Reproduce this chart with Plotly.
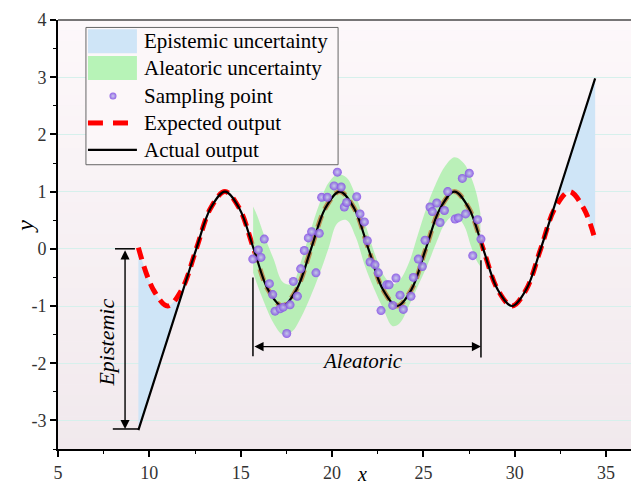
import plotly.graph_objects as go

# ---------------- data ----------------
actual_x = [9.40, 10.20, 11.00, 11.80, 12.57, 13.35, 14.14, 14.92, 15.71, 16.49, 17.28, 18.06, 18.85,
            19.63, 20.42, 21.21, 21.99, 22.78, 23.56, 24.35, 25.13, 25.92, 26.70, 27.49, 28.27,
            29.06, 29.85, 30.63, 31.42, 32.40, 33.40, 34.40]
actual_y = [-3.17, -2.37, -1.57, -0.77, 0.00, 0.71, 1.00, 0.71, 0.00, -0.71, -1.00, -0.71, 0.00,
            0.71, 1.00, 0.71, 0.00, -0.71, -1.00, -0.71, 0.00, 0.71, 1.00, 0.71, 0.00,
            -0.71, -1.00, -0.71, 0.00, 0.98, 1.98, 2.98]

expected_x = [9.40, 10.21, 11.00, 11.78, 12.57, 13.35, 14.14, 14.92, 15.71, 16.49, 17.28, 18.06, 18.85,
              19.63, 20.42, 21.21, 21.99, 22.78, 23.56, 24.35, 25.13, 25.92, 26.70, 27.49, 28.27,
              29.06, 29.85, 30.63, 31.42, 32.20, 32.99, 33.77, 34.40]
expected_y = [0.02, -0.71, -1.00, -0.71, 0.00, 0.71, 1.00, 0.71, 0.00, -0.71, -1.00, -0.71, 0.00,
              0.71, 1.00, 0.71, 0.00, -0.71, -1.00, -0.71, 0.00, 0.71, 1.00, 0.71, 0.00,
              -0.71, -1.00, -0.71, 0.00, 0.71, 1.00, 0.71, 0.16]

epi_left_x = [9.40, 10.21, 11.00, 11.78, 12.57]
epi_left_top = [0.02, -0.71, -1.00, -0.71, 0.00]
epi_left_bot = [-3.17, -2.36, -1.57, -0.79, 0.00]

epi_right_x = [31.42, 32.20, 32.99, 33.77, 34.40]
epi_right_bot = [0.00, 0.71, 1.00, 0.71, 0.16]
epi_right_top = [0.00, 0.79, 1.57, 2.36, 2.98]

band_x = [15.68, 15.90, 16.30, 16.80, 17.30, 17.80, 18.30, 18.80, 19.30, 19.80, 20.30, 20.80, 21.30,
          21.80, 22.30, 22.80, 23.30, 23.70, 24.20, 24.70, 25.20, 25.70, 26.20, 26.70, 27.20,
          27.60, 27.90, 28.12]
band_upper = [0.74, 0.58, 0.22, -0.18, -0.58, -0.62, -0.22, 0.30, 0.78, 1.15, 1.30, 1.24, 0.92,
              0.45, -0.05, -0.45, -0.62, -0.55, -0.25, 0.25, 0.75, 1.15, 1.45, 1.60, 1.50,
              1.26, 0.97, 0.62]
band_lower = [-0.42, -0.62, -0.95, -1.30, -1.50, -1.45, -1.20, -0.85, -0.45, 0.00, 0.45, 0.50, 0.20,
              -0.30, -0.70, -1.05, -1.35, -1.30, -1.00, -0.65, -0.30, 0.10, 0.45, 0.58, 0.42,
              0.05, -0.20, -0.31]

sample_x = [15.66, 15.96, 16.11, 16.29, 16.57, 16.75, 16.88, 17.15, 17.33, 17.52, 17.70, 17.88, 18.10,
            18.28, 18.48, 18.70, 18.88, 19.12, 19.30, 19.43, 19.74, 20.11, 20.29, 20.50, 20.67,
            20.80, 21.35, 21.53, 21.77, 21.93, 22.08, 22.35, 22.53, 22.68, 22.99, 23.12, 23.32,
            23.50, 23.72, 23.90, 24.32, 24.45, 24.72, 24.94, 25.09, 25.36, 25.49, 25.73, 25.91,
            26.15, 26.33, 26.73, 26.91, 27.13, 27.31, 27.51, 27.70, 27.97, 28.15]
sample_y = [-0.18, -0.02, -0.15, 0.17, -0.61, -0.80, -1.09, -1.05, -1.02, -1.48, -0.98, -0.57, -0.83,
            -0.35, -0.03, 0.19, 0.30, -0.42, 0.27, 0.90, 0.90, 1.10, 1.34, 1.08, 0.73,
            0.81, 0.91, 0.61, 0.47, 0.14, -0.23, -0.28, -0.42, -1.08, -0.63, -0.63, -0.99,
            -0.51, -0.81, -1.06, -0.83, -0.50, -0.18, -0.31, 0.15, 0.73, 0.65, 0.80, 0.46,
            0.67, 1.00, 0.52, 0.54, 1.23, 0.61, 1.32, -0.12, 0.51, 0.17]

x_ticks = [5, 10, 15, 20, 25, 30, 35]
y_ticks = [-3, -2, -1, 0, 1, 2, 3, 4]
y_tick_text = ["-3", "-2", "-1", "0", "1", "2", "3", "4"]

legend_labels = ["Epistemic uncertainty", "Aleatoric uncertainty", "Sampling point",
                 "Expected output", "Actual output"]

# ---------------- styles ----------------
SERIF = "Liberation Serif"
BLUE = "rgb(207,229,247)"
GREEN = "rgba(144,238,144,0.6)"
RED = "#ff0000"
DOT = "#8552e4"
DOT_HI = "#c4c6ec"

fig = go.Figure()

# epistemic fills
fig.add_trace(go.Scatter(x=epi_left_x, y=epi_left_top, mode="lines", line=dict(width=0, shape="spline"),
                         showlegend=False, hoverinfo="skip"))
fig.add_trace(go.Scatter(x=epi_left_x, y=epi_left_bot, mode="lines", line=dict(width=0, shape="spline"),
                         fill="tonexty", fillcolor=BLUE, showlegend=False, hoverinfo="skip"))
fig.add_trace(go.Scatter(x=epi_right_x, y=epi_right_bot, mode="lines", line=dict(width=0, shape="spline"),
                         showlegend=False, hoverinfo="skip"))
fig.add_trace(go.Scatter(x=epi_right_x, y=epi_right_top, mode="lines", line=dict(width=0, shape="spline"),
                         fill="tonexty", fillcolor=BLUE, showlegend=False, hoverinfo="skip"))

# expected output (red dashed)
fig.add_trace(go.Scatter(x=expected_x, y=expected_y, mode="lines",
                         line=dict(color=RED, width=5, dash="12px,7px", shape="spline"),
                         showlegend=False))

# aleatoric band
fig.add_trace(go.Scatter(x=band_x, y=band_upper, mode="lines", line=dict(width=0, shape="spline"),
                         showlegend=False, hoverinfo="skip"))
fig.add_trace(go.Scatter(x=band_x, y=band_lower, mode="lines", line=dict(width=0, shape="spline"),
                         fill="tonexty", fillcolor=GREEN, showlegend=False, hoverinfo="skip"))

# actual output
fig.add_trace(go.Scatter(x=actual_x, y=actual_y, mode="lines",
                         line=dict(color="black", width=2.2, shape="spline"), showlegend=False))

# sampling points
marker_style = dict(color=DOT, size=9, opacity=0.9, line=dict(width=0),
                    gradient=dict(type="radial", color=DOT_HI))
fig.add_trace(go.Scatter(x=sample_x, y=sample_y, mode="markers", marker=marker_style, showlegend=False))

# ---------------- background gradient ----------------
shapes = []
N = 40
top_c = (253, 248, 250)
bot_c = (241, 233, 237)
for i in range(N):
    t = (i + 0.5) / N
    c = tuple(int(round(top_c[k] + (bot_c[k] - top_c[k]) * t)) for k in range(3))
    shapes.append(dict(type="rect", xref="x domain", yref="y domain", x0=0, x1=1,
                       y0=1 - (i + 1) / N, y1=1 - i / N + 0.001, line=dict(width=0),
                       fillcolor="rgb(%d,%d,%d)" % c, layer="below"))

# top frame line
shapes.append(dict(type="line", xref="x domain", yref="y domain", x0=0, x1=1, y0=1, y1=1,
                   line=dict(color="#4a4a4a", width=1.5)))

# ---------------- custom legend ----------------
shapes.append(dict(type="rect", xref="x", yref="y", x0=6.53, x1=20.33, y0=1.47, y1=3.87,
                   line=dict(color="#666666", width=1), fillcolor="rgb(252,247,249)", layer="between"))
shapes.append(dict(type="rect", xref="x", yref="y", x0=6.64, x1=9.32, y0=3.42, y1=3.84,
                   line=dict(width=0), fillcolor=BLUE))
shapes.append(dict(type="rect", xref="x", yref="y", x0=6.64, x1=9.32, y0=2.95, y1=3.37,
                   line=dict(width=0), fillcolor="rgb(183,243,183)"))
shapes.append(dict(type="line", xref="x", yref="y", x0=6.64, x1=7.46, y0=2.20, y1=2.20,
                   line=dict(color=RED, width=5)))
shapes.append(dict(type="line", xref="x", yref="y", x0=8.01, x1=8.83, y0=2.20, y1=2.20,
                   line=dict(color=RED, width=5)))
shapes.append(dict(type="line", xref="x", yref="y", x0=6.64, x1=9.32, y0=1.73, y1=1.73,
                   line=dict(color="black", width=2.2)))

legend_dot_style = dict(marker_style, size=7)
fig.add_trace(go.Scatter(x=[8.01], y=[2.67], mode="markers", marker=legend_dot_style, showlegend=False,
                         hoverinfo="skip"))

annotations = []
legend_rows_y = [3.63, 3.16, 2.67, 2.20, 1.73]
for lab, yy in zip(legend_labels, legend_rows_y):
    annotations.append(dict(x=9.62, y=yy, xref="x", yref="y", text=lab, showarrow=False,
                            xanchor="left", yanchor="middle",
                            font=dict(family=SERIF, size=21, color="black")))

# ---------------- epistemic annotation ----------------
annotations.append(dict(x=8.67, y=-3.15, ax=8.67, ay=0.0, xref="x", yref="y", axref="x", ayref="y",
                        text="", showarrow=True, arrowhead=2, startarrowhead=2, arrowside="end+start",
                        arrowsize=1.3, startarrowsize=1.3, arrowwidth=1.4, arrowcolor="black",
                        standoff=0, startstandoff=0))
shapes.append(dict(type="line", xref="x", yref="y", x0=8.12, x1=9.21, y0=0, y1=0,
                   line=dict(color="black", width=1.5)))
shapes.append(dict(type="line", xref="x", yref="y", x0=8.0, x1=9.38, y0=-3.15, y1=-3.15,
                   line=dict(color="black", width=1.5)))
annotations.append(dict(x=7.68, y=-1.64, xref="x", yref="y", text="<i>Epistemic</i>", showarrow=False,
                        textangle=-90, font=dict(family=SERIF, size=22, color="black")))

# ---------------- aleatoric annotation ----------------
annotations.append(dict(x=28.15, y=-1.71, ax=15.67, ay=-1.71, xref="x", yref="y", axref="x", ayref="y",
                        text="", showarrow=True, arrowhead=2, startarrowhead=2, arrowside="end+start",
                        arrowsize=1.3, startarrowsize=1.3, arrowwidth=1.4, arrowcolor="black",
                        standoff=0, startstandoff=0))
shapes.append(dict(type="line", xref="x", yref="y", x0=15.67, x1=15.67, y0=-0.5, y1=-1.88,
                   line=dict(color="black", width=1.5)))
shapes.append(dict(type="line", xref="x", yref="y", x0=28.15, x1=28.15, y0=-0.2, y1=-1.9,
                   line=dict(color="black", width=1.5)))
annotations.append(dict(x=21.64, y=-1.97, xref="x", yref="y", text="<i>Aleatoric</i>", showarrow=False,
                        font=dict(family=SERIF, size=21, color="black")))

# axis titles
annotations.append(dict(x=21.64, y=0, xref="x", yref="paper", yanchor="top", yshift=-12,
                        text="<i>x</i>", showarrow=False, font=dict(family=SERIF, size=20, color="black")))
annotations.append(dict(x=-0.057, y=0.40, xref="paper", yref="y", xanchor="center", yanchor="middle",
                        text="<i>y</i>", showarrow=False,
                        textangle=-90, font=dict(family=SERIF, size=24, color="black")))

# page body has an 8px margin, so the figure is sized/margined to land on the reference pixels
fig.update_layout(
    width=631, height=479,
    margin=dict(l=50, r=0, t=12, b=38, autoexpand=False),
    paper_bgcolor="white",
    plot_bgcolor="rgb(248,242,245)",
    shapes=shapes,
    annotations=annotations,
    showlegend=False,
    xaxis=dict(range=[5, 36.8], tickvals=x_ticks, ticks="outside", ticklen=6, tickwidth=1.5,
               tickcolor="black", showline=True, linecolor="black", linewidth=2, showgrid=False,
               zeroline=False, tickfont=dict(family=SERIF, size=18, color="#333333"),
               minor=dict(dtick=2.5, ticks="outside", ticklen=3, tickwidth=1.2, tickcolor="black",
                          showgrid=False)),
    yaxis=dict(range=[-3.5, 4], tickvals=y_ticks, ticktext=y_tick_text, ticks="outside", ticklen=6,
               tickwidth=1.5, tickcolor="black", showline=True, linecolor="black", linewidth=2,
               showgrid=True, gridcolor="rgb(214,240,236)", gridwidth=1, zeroline=False,
               tickfont=dict(family=SERIF, size=18, color="#333333"),
               minor=dict(dtick=0.5, tick0=0, ticks="outside", ticklen=3, tickwidth=1.2,
                          tickcolor="black", showgrid=False)),
)

fig.write_html("out.html")
